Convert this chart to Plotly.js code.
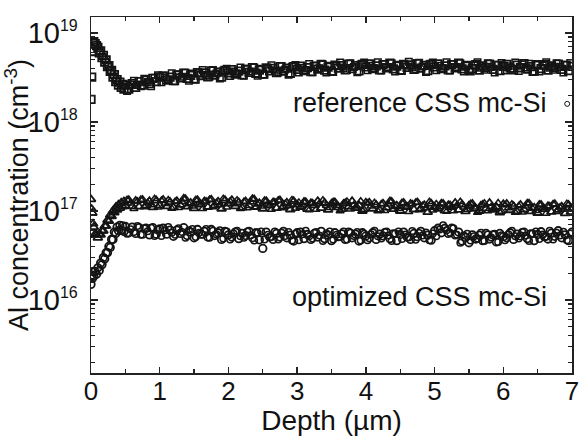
<!DOCTYPE html>
<html><head><meta charset="utf-8">
<script src="https://cdn.plot.ly/plotly-3.0.1.min.js"></script>
<style>html,body{margin:0;padding:0;background:#fff}#chart{width:580px;height:436px}</style>
</head><body><div id="chart"></div>
<script>
// Depth grid (µm), first scan, shared by the three profiles
const depth = [0,0.01,0.02,0.03,0.04,0.06,0.08,0.10,0.12,0.14,0.16,0.18,0.20,0.22,0.24,0.26,0.28,0.30,0.32,0.34,0.36,0.38,0.40,0.42,0.44,0.46,0.48,0.50,0.55,0.60,0.65,0.70,0.75,0.80,0.85,0.90,0.95,1.00,
1.05,1.10,1.15,1.20,1.25,1.30,1.35,1.40,1.45,1.50,1.55,1.60,1.65,1.70,1.75,1.80,1.85,1.90,1.95,2.00,
2.05,2.10,2.15,2.20,2.25,2.30,2.35,2.40,2.45,2.50,2.55,2.60,2.65,2.70,2.75,2.80,2.85,2.90,2.95,3.00,
3.05,3.10,3.15,3.20,3.25,3.30,3.35,3.40,3.45,3.50,3.55,3.60,3.65,3.70,3.75,3.80,3.85,3.90,3.95,4.00,
4.05,4.10,4.15,4.20,4.25,4.30,4.35,4.40,4.45,4.50,4.55,4.60,4.65,4.70,4.75,4.80,4.85,4.90,4.95,5.00,
5.05,5.10,5.15,5.20,5.25,5.30,5.35,5.40,5.45,5.50,5.55,5.60,5.65,5.70,5.75,5.80,5.85,5.90,5.95,6.00,
6.05,6.10,6.15,6.20,6.25,6.30,6.35,6.40,6.45,6.50,6.55,6.60,6.65,6.70,6.75,6.80,6.85,6.90,6.95,7.00];

// Depth grid (µm), second interleaved scan
const depth2 = [0.525,0.575,0.625,0.675,0.725,0.775,0.825,0.875,0.925,0.975,
1.025,1.075,1.125,1.175,1.225,1.275,1.325,1.375,1.425,1.475,1.525,1.575,1.625,1.675,1.725,1.775,1.825,1.875,1.925,1.975,
2.025,2.075,2.125,2.175,2.225,2.275,2.325,2.375,2.425,2.475,2.525,2.575,2.625,2.675,2.725,2.775,2.825,2.875,2.925,2.975,
3.025,3.075,3.125,3.175,3.225,3.275,3.325,3.375,3.425,3.475,3.525,3.575,3.625,3.675,3.725,3.775,3.825,3.875,3.925,3.975,
4.025,4.075,4.125,4.175,4.225,4.275,4.325,4.375,4.425,4.475,4.525,4.575,4.625,4.675,4.725,4.775,4.825,4.875,4.925,4.975,
5.025,5.075,5.125,5.175,5.225,5.275,5.325,5.375,5.425,5.475,5.525,5.575,5.625,5.675,5.725,5.775,5.825,5.875,5.925,5.975,
6.025,6.075,6.125,6.175,6.225,6.275,6.325,6.375,6.425,6.475,6.525,6.575,6.625,6.675,6.725,6.775,6.825,6.875,6.925,6.975];

// reference CSS mc-Si (units of 1e18 cm^-3)
const refE18 = [1.8,3.2,6.2,7.8,8.0,7.6,7.2,6.9,6.0,6.3,5.3,5.6,4.7,5.0,4.2,4.3,3.7,3.8,3.2,3.4,2.85,3.0,2.6,2.8,2.45,2.65,2.35,2.6,2.35,2.7,2.45,2.85,2.6,2.95,2.7,3.1,2.85,3.2,
3.30,2.95,3.20,2.92,3.36,3.13,3.55,3.09,3.35,3.05,3.58,3.33,3.57,3.21,3.76,3.36,3.64,3.20,3.79,3.56,
3.87,3.46,3.73,3.39,3.89,3.61,4.08,3.53,3.82,3.46,4.05,3.75,4.00,3.59,4.19,3.73,4.03,3.53,4.18,3.91,
4.25,3.78,4.08,3.69,4.23,3.92,4.43,3.83,4.13,3.73,4.36,4.04,4.30,3.85,4.48,3.99,4.30,3.76,4.44,4.16,
4.49,3.99,4.28,3.86,4.41,4.07,4.58,3.95,4.24,3.82,4.45,4.12,4.37,3.91,4.54,4.03,4.33,3.78,4.45,4.16,
4.49,3.99,4.28,3.86,4.41,4.07,4.58,3.95,4.24,3.82,3.98,4.40,3.82,4.27,4.11,4.48,3.90,4.32,3.78,4.23,
4.44,4.03,3.86,4.36,4.07,4.52,3.94,4.19,3.74,4.40,3.98,4.40,3.82,4.27,4.11,4.48,3.90,4.32,3.78,4.23];
const refScan2E18 = [2.23,2.62,2.90,2.60,2.53,3.06,2.82,2.52,3.15,3.35,
2.79,3.16,3.00,3.54,2.87,3.45,3.22,3.57,2.91,3.51,2.99,3.53,3.85,3.37,3.22,3.84,3.51,3.08,3.77,3.98,
3.29,3.70,3.50,4.11,3.32,3.97,3.69,4.09,3.32,3.98,3.39,3.97,4.34,3.77,3.60,4.27,3.90,3.40,4.17,4.37,
3.60,4.05,3.83,4.48,3.62,4.31,4.01,4.43,3.59,4.29,3.65,4.27,4.66,4.05,3.85,4.57,4.16,3.63,4.43,4.65,
3.82,4.28,4.03,4.70,3.78,4.49,4.16,4.58,3.70,4.41,3.74,4.37,4.75,4.12,3.91,4.62,4.20,3.65,4.45,4.66,
3.82,4.28,4.03,4.70,3.78,4.49,4.16,4.58,3.70,4.41,3.69,4.32,4.69,4.07,3.86,4.57,4.15,3.61,4.40,4.61,
3.78,4.23,3.98,4.65,3.74,4.44,4.11,4.52,3.65,4.36,3.69,4.32,4.69,4.07,3.86,4.57,4.15,3.61,4.40,4.61];

// optimized CSS mc-Si, upper profile (units of 1e17 cm^-3)
const optUpperE17 = [1.35,1.05,0.95,0.72,0.66,0.55,0.54,0.50,0.55,0.54,0.60,0.60,0.68,0.68,0.79,0.77,0.90,0.87,1.00,0.96,1.10,1.03,1.18,1.08,1.24,1.12,1.28,1.14,1.32,1.13,1.30,1.12,1.33,1.15,1.29,1.10,1.31,1.16,
1.33,1.13,1.26,1.10,1.29,1.17,1.37,1.12,1.23,1.07,1.32,1.18,1.28,1.11,1.34,1.16,1.27,1.06,1.32,1.21,
1.32,1.13,1.25,1.09,1.28,1.16,1.36,1.11,1.22,1.06,1.29,1.15,1.25,1.08,1.31,1.13,1.24,1.04,1.29,1.18,
1.11,1.26,1.05,1.22,1.16,1.29,1.08,1.23,1.03,1.21,1.25,1.10,1.05,1.22,1.12,1.29,1.08,1.16,1.00,1.24,
1.24,1.06,1.17,1.03,1.21,1.09,1.28,1.05,1.15,1.00,1.23,1.11,1.20,1.04,1.25,1.06,1.16,0.97,1.21,1.11,
1.06,1.21,1.01,1.16,1.11,1.23,1.03,1.18,0.99,1.15,1.20,1.06,1.00,1.17,1.07,1.23,1.03,1.11,0.96,1.19,
1.20,1.02,1.13,0.99,1.17,1.04,1.21,0.99,1.09,0.95,1.17,1.05,1.13,0.98,1.19,1.03,1.12,0.94,1.17,1.07];
const optUpperScan2E17 = [1.34,1.22,1.06,1.29,1.35,1.11,1.24,1.17,1.37,1.10,
1.31,1.21,1.33,1.07,1.28,1.09,1.27,1.38,1.20,1.13,1.34,1.22,1.06,1.29,1.35,1.11,1.24,1.17,1.37,1.10,
1.29,1.20,1.32,1.06,1.27,1.08,1.26,1.37,1.19,1.13,1.31,1.19,1.04,1.26,1.32,1.08,1.21,1.14,1.33,1.07,
1.25,1.16,1.28,1.03,1.23,1.04,1.22,1.32,1.15,1.09,1.27,1.15,1.00,1.22,1.28,1.05,1.17,1.10,1.29,1.04,
1.22,1.13,1.24,1.00,1.20,1.01,1.19,1.29,1.12,1.06,1.24,1.13,0.98,1.20,1.25,1.03,1.15,1.08,1.27,1.02,
1.20,1.11,1.22,0.99,1.18,1.00,1.16,1.27,1.10,1.04,1.21,1.10,0.96,1.17,1.22,1.00,1.12,1.06,1.23,0.99,
1.17,1.08,1.19,0.96,1.14,0.97,1.13,1.23,1.07,1.01,1.19,1.08,0.94,1.14,1.20,0.98,1.10,1.04,1.21,0.97];

// optimized CSS mc-Si, lower profile (units of 1e16 cm^-3)
const optLowerE16 = [1.5,1.9,1.75,2.1,1.85,2.1,1.95,2.3,2.15,2.6,2.5,3.0,2.9,3.4,3.4,4.0,3.9,4.8,4.8,5.8,5.6,6.6,6.0,6.9,6.1,6.8,5.9,6.7,5.7,6.6,5.6,6.5,5.5,6.4,5.4,6.5,5.5,6.3,
6.4,5.5,6.1,5.2,6.1,5.6,6.5,5.3,5.8,5.0,6.2,5.5,5.9,5.1,6.2,5.3,5.7,4.8,5.9,5.4,
5.1,5.8,4.9,5.6,5.3,5.9,5.0,5.7,4.75,3.8,5.8,5.1,4.8,5.6,5.1,5.9,5.0,5.35,4.6,5.7,
5.8,4.9,5.45,4.8,5.6,5.1,5.9,4.9,5.35,4.65,5.7,5.15,5.55,4.8,5.8,5.0,5.5,4.6,5.7,5.25,
5.0,5.7,4.8,5.5,5.25,5.8,4.9,5.55,4.65,5.45,5.8,5.1,4.8,5.6,5.15,5.9,5.0,5.35,4.7,6.0,
6.4,5.7,6.4,5.6,6.4,5.4,5.8,4.6,5.05,4.4,5.4,4.85,5.35,4.65,5.6,4.85,5.4,4.5,5.6,5.15,
5.0,5.7,4.8,5.5,5.25,5.8,4.9,5.55,4.65,5.45,5.85,5.15,4.85,5.65,5.2,6.0,5.0,5.4,4.65,5.8];
const optLowerScan2E16 = [5.55,6.22,5.81,6.78,5.40,6.42,5.94,6.49,5.24,6.20,
5.23,6.1,6.6,5.7,5.4,6.4,5.8,5.0,6.1,6.3,5.1,5.7,5.4,6.3,5.0,6.0,5.5,6.1,4.9,5.9,
4.8,5.6,6.0,5.2,5.0,5.9,5.35,4.65,5.7,5.9,4.8,5.4,5.1,5.9,4.8,5.7,5.25,5.8,4.65,5.55,
4.7,5.5,6.0,5.2,4.9,5.8,5.3,4.6,5.6,5.9,4.8,5.4,5.1,5.9,4.8,5.7,5.25,5.8,4.65,5.55,
4.7,5.5,6.0,5.2,4.9,5.8,5.3,4.6,5.6,5.9,4.85,5.45,5.05,5.95,4.75,5.65,5.3,5.75,4.7,5.6,
5.2,6.2,6.9,6.1,5.7,6.4,5.4,4.4,5.3,5.55,4.65,5.2,4.9,5.7,4.6,5.45,5.05,5.55,4.5,5.35,
4.7,5.5,6.0,5.2,4.9,5.8,5.3,4.6,5.6,5.9,4.85,5.45,5.15,6.0,4.8,5.7,5.3,5.85,4.7,5.6];

// stray points
const strayDepth = [6.93];
const strayValue = [1.6e18];

// y tick values and labels
const yTickVals = [1e16, 1e17, 1e18, 1e19];
const yTickExps = ['16', '17', '18', '19'];

const labelRef = 'reference CSS mc-Si';
const labelOpt = 'optimized CSS mc-Si';
const yTitle = 'Al concentration (cm<sup>-3</sup>)';
const xTitle = 'Depth (µm)';

const FONT = 'Liberation Sans, Arial, Helvetica, sans-serif';
const INK = '#141414';

function mk(x, y, symbol, size, lw){
  return {type:'scatter', mode:'markers', x:x, y:y,
    marker:{symbol:symbol, size:size, color:INK, line:{color:INK, width:lw}},
    showlegend:false, hoverinfo:'skip'};
}
const traces = [
  mk(depth, refE18.map(v=>v*1e18), 'square-open', 7.5, 1.8),
  mk(depth2, refScan2E18.map(v=>v*1e18), 'square-open', 6.5, 1.5),
  mk(depth, optUpperE17.map(v=>v*1e17), 'triangle-up-open', 8, 1.8),
  mk(depth2, optUpperScan2E17.map(v=>v*1e17), 'triangle-up-open', 7, 1.5),
  mk(depth, optLowerE16.map(v=>v*1e16), 'circle-open', 7.5, 1.8),
  mk(depth2, optLowerScan2E16.map(v=>v*1e16), 'circle-open', 6.5, 1.5),
  mk(strayDepth, strayValue, 'circle-open', 5, 1)
];

const layout = {
  width:580, height:436,
  margin:{l:91, r:8, t:17, b:63},
  paper_bgcolor:'#fff', plot_bgcolor:'#fff',
  font:{family:FONT, color:'#111'},
  xaxis:{range:[0,7], dtick:1, tick0:0, showgrid:false, zeroline:false,
    showline:true, linecolor:'#222', linewidth:1.5, mirror:'ticks',
    ticks:'inside', ticklen:6, tickwidth:1.5, tickcolor:'#222',
    minor:{dtick:0.5, ticks:'inside', ticklen:4, tickwidth:1.2, tickcolor:'#222', showgrid:false},
    tickfont:{size:26, family:FONT, color:'#111'}, ticklabelstandoff:-6,
    title:{text:xTitle, font:{size:28, family:FONT, color:'#111'}, standoff:0}},
  yaxis:{type:'log', range:[15.18,19.18], showgrid:false, zeroline:false,
    tickmode:'array', tickvals:yTickVals,
    ticktext:yTickExps.map(e=>'10<sup><span style="font-size:16px">'+e+'</span></sup>'),
    showline:true, linecolor:'#222', linewidth:1.5, mirror:'ticks',
    ticks:'inside', ticklen:7, tickwidth:1.5, tickcolor:'#222',
    minor:{tickmode:'array', tickvals:[2e15,3e15,4e15,5e15,6e15,7e15,8e15,9e15,2e16,3e16,4e16,5e16,6e16,7e16,8e16,9e16,2e17,3e17,4e17,5e17,6e17,7e17,8e17,9e17,2e18,3e18,4e18,5e18,6e18,7e18,8e18,9e18],
      ticks:'inside', ticklen:4, tickwidth:1.2, tickcolor:'#222', showgrid:false},
    tickfont:{size:29, family:FONT, color:'#111'}, ticklabelstandoff:6,
    title:{text:yTitle, font:{size:27, family:FONT, color:'#111'}, standoff:5}},
  annotations:[
    {text:labelRef, xref:'paper', yref:'paper', x:0.952, y:0.758, xanchor:'right', yanchor:'middle', showarrow:false, font:{size:27, family:FONT, color:'#111'}},
    {text:labelOpt, xref:'paper', yref:'paper', x:0.952, y:0.213, xanchor:'right', yanchor:'middle', showarrow:false, font:{size:27, family:FONT, color:'#111'}}
  ]
};
Plotly.newPlot('chart', traces, layout, {staticPlot:true, displayModeBar:false});
</script></body></html>
